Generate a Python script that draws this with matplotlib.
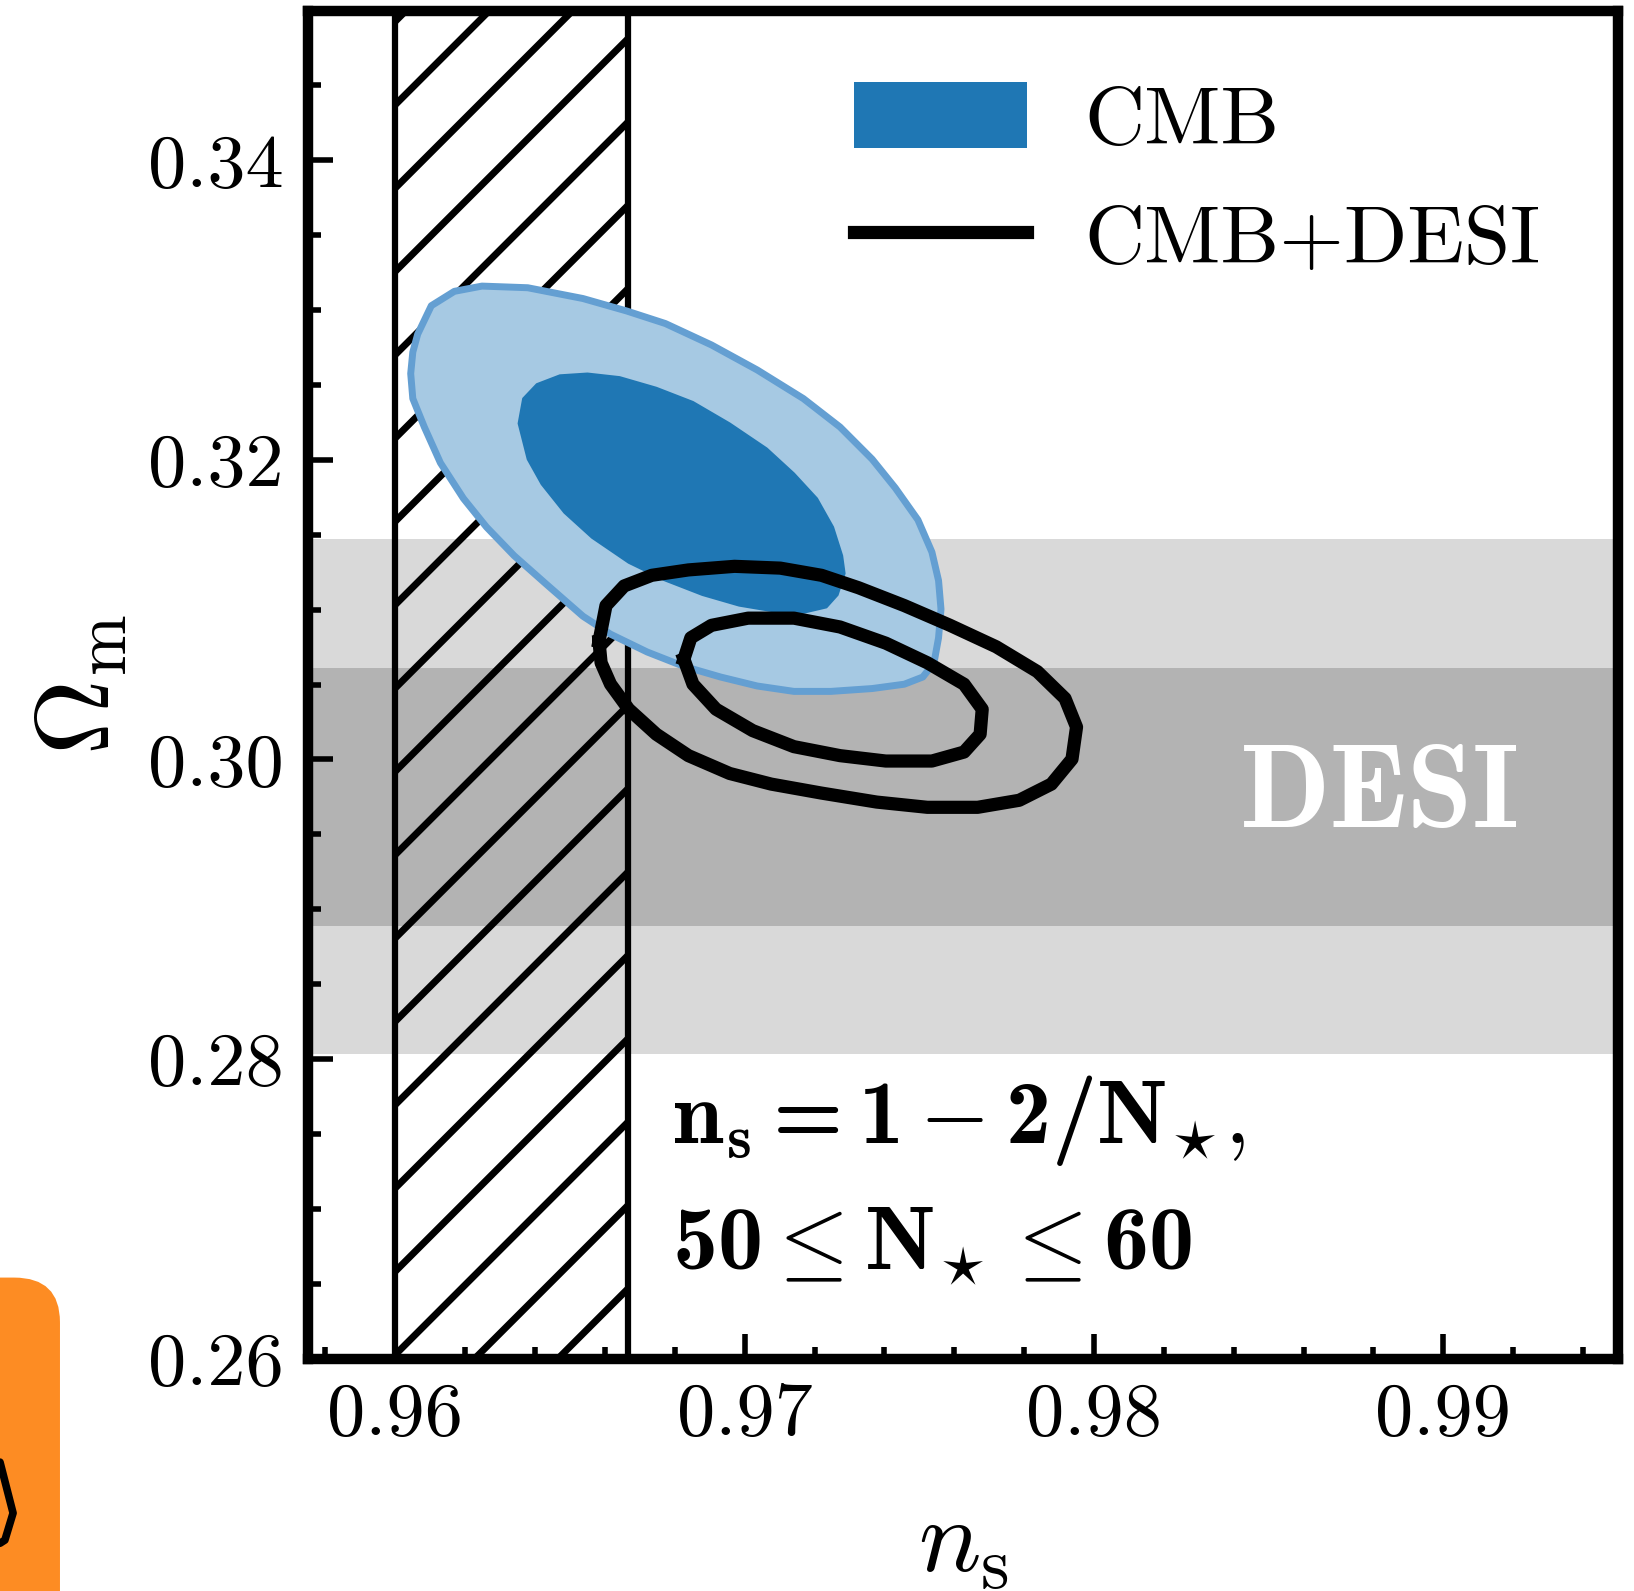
import numpy as np
import matplotlib.pyplot as plt
from matplotlib.patches import Patch, FancyBboxPatch
from matplotlib.lines import Line2D
from matplotlib.ticker import MultipleLocator, FixedLocator

plt.rcParams['font.family'] = 'serif'
plt.rcParams['font.serif'] = ['cmr10']
plt.rcParams['mathtext.fontset'] = 'custom'
plt.rcParams['mathtext.rm'] = 'cmr10'
plt.rcParams['mathtext.it'] = 'cmmi10'
plt.rcParams['mathtext.bf'] = 'cmb10'
plt.rcParams['mathtext.fallback'] = 'cm'
plt.rcParams['axes.unicode_minus'] = False
plt.rcParams['hatch.linewidth'] = 1.0

# CMB contours (ns, Omega_m)
cmb_95_ns = [0.96050, 0.96064, 0.96103, 0.96169, 0.96248, 0.96379, 0.96537, 0.96662,
             0.96773, 0.96905, 0.97036, 0.97168, 0.97273, 0.97365, 0.97431, 0.97496,
             0.97536, 0.97555, 0.97562, 0.97555, 0.97542, 0.97510, 0.97457, 0.97365,
             0.97247, 0.97141, 0.97036, 0.96931, 0.96826, 0.96721, 0.96616, 0.96537,
             0.96432, 0.96340, 0.96261, 0.96195, 0.96129, 0.96083, 0.96050, 0.96044]
cmb_95_om = [0.32719, 0.32839, 0.33029, 0.33125, 0.33160, 0.33149, 0.33077, 0.32994,
             0.32910, 0.32767, 0.32600, 0.32409, 0.32219, 0.32004, 0.31813, 0.31599,
             0.31384, 0.31194, 0.31003, 0.30812, 0.30645, 0.30550, 0.30502, 0.30473,
             0.30454, 0.30454, 0.30490, 0.30550, 0.30621, 0.30717, 0.30836, 0.30956,
             0.31170, 0.31360, 0.31551, 0.31742, 0.31980, 0.32219, 0.32409, 0.32576]
cmb_68_ns = [0.96353, 0.96366, 0.96405, 0.96471, 0.96550, 0.96642, 0.96747, 0.96852,
             0.96957, 0.97063, 0.97141, 0.97207, 0.97253, 0.97279, 0.97286, 0.97266,
             0.97234, 0.97168, 0.97076, 0.96984, 0.96879, 0.96773, 0.96668, 0.96563,
             0.96484, 0.96419, 0.96379]
cmb_68_om = [0.32243, 0.32409, 0.32505, 0.32564, 0.32576, 0.32552, 0.32481, 0.32386,
             0.32243, 0.32076, 0.31909, 0.31742, 0.31551, 0.31360, 0.31241, 0.31098,
             0.31015, 0.30979, 0.30991, 0.31027, 0.31098, 0.31194, 0.31313, 0.31480,
             0.31647, 0.31837, 0.32004]

# CMB+DESI contours
comb_95_ns = [0.96583, 0.96603, 0.96655, 0.96734, 0.96839, 0.96971, 0.97102, 0.97220,
              0.97326, 0.97457, 0.97588, 0.97720, 0.97838, 0.97917, 0.97950, 0.97937,
              0.97878, 0.97786, 0.97667, 0.97523, 0.97378, 0.97220, 0.97076, 0.96957,
              0.96839, 0.96747, 0.96668, 0.96616, 0.96589]
comb_95_om = [0.30788, 0.31027, 0.31158, 0.31229, 0.31265, 0.31289, 0.31277, 0.31229,
              0.31146, 0.31027, 0.30895, 0.30752, 0.30586, 0.30407, 0.30216, 0.30002,
              0.29835, 0.29727, 0.29680, 0.29680, 0.29715, 0.29775, 0.29835, 0.29906,
              0.30025, 0.30168, 0.30335, 0.30502, 0.30645]
comb_68_ns = [0.96826, 0.96846, 0.96905, 0.97010, 0.97141, 0.97273, 0.97404, 0.97523,
              0.97628, 0.97680, 0.97674, 0.97628, 0.97536, 0.97404, 0.97273, 0.97141,
              0.97023, 0.96918, 0.96852]
comb_68_om = [0.30669, 0.30812, 0.30895, 0.30943, 0.30943, 0.30884, 0.30776, 0.30645,
              0.30502, 0.30335, 0.30168, 0.30049, 0.29989, 0.29989, 0.30025, 0.30085,
              0.30192, 0.30335, 0.30502]

# DESI bands on Omega_m
desi_1sig = [0.2889, 0.3061]
desi_2sig = [0.2803, 0.3147]

# ns range for 50 <= N <= 60
ns_band = [0.96, 0.96667]

xticks = [0.96, 0.97, 0.98, 0.99]
yticks = [0.26, 0.28, 0.30, 0.32, 0.34]

fig = plt.figure(figsize=(1634 / 500, 1591 / 500), dpi=500)
ax = fig.add_axes([308 / 1634, 1 - 1358.5 / 1591, 1310 / 1634, 1348 / 1591])

ax.axhspan(desi_2sig[0], desi_2sig[1], color='#d9d9d9', lw=0, zorder=0.5)
ax.axhspan(desi_1sig[0], desi_1sig[1], color='#b3b3b3', lw=0, zorder=0.6)
ax.text(0.9882, 0.2975, 'DESI', family='cmb10', fontsize=17, color='white',
        ha='center', va='center', zorder=0.7)

ax.axvspan(ns_band[0], ns_band[1], facecolor='none', edgecolor='k', hatch='//',
           lw=0, zorder=1)
for v in ns_band:
    ax.axvline(v, color='k', lw=0.9, zorder=1.1)

ax.fill(cmb_95_ns, cmb_95_om, facecolor='#a6c9e3', edgecolor='#649fd2', lw=1.0,
        joinstyle='round', zorder=2)
ax.fill(cmb_68_ns, cmb_68_om, facecolor='#1f77b4', edgecolor='#1f77b4', lw=0.3,
        joinstyle='round', zorder=2.1)

for xs, ys in [(comb_95_ns, comb_95_om), (comb_68_ns, comb_68_om)]:
    ax.plot(xs + xs[:1], ys + ys[:1], color='k', lw=1.9, solid_joinstyle='round',
            zorder=3)

ax.text(0.96792, 0.27440, r'$\mathbf{n_s = 1 - 2/N}_{\!\star\!},$', fontsize=13,
        ha='left', va='baseline', zorder=4)
ax.text(0.96792, 0.26599, r'$\mathbf{50} \leq \mathbf{N}_{\!\star} \leq \mathbf{60}$',
        fontsize=13, ha='left', va='baseline', zorder=4)

handles = [Patch(facecolor='#1f77b4', edgecolor='none', label='CMB'),
           Line2D([], [], color='k', lw=1.9, label='CMB+DESI')]
ax.legend(handles=handles, loc='upper left', bbox_to_anchor=(0.4168, 0.947),
          frameon=False, fontsize=12, borderpad=0, borderaxespad=0,
          handlelength=2.07, handleheight=0.84, handletextpad=0.7, labelspacing=0.5)

ax.set_xlim(0.9575, 0.995)
ax.set_ylim(0.26, 0.35)
ax.xaxis.set_major_locator(FixedLocator(xticks))
ax.yaxis.set_major_locator(FixedLocator(yticks))
ax.set_xticklabels(['%.2f' % t for t in xticks])
ax.set_yticklabels(['%.2f' % t for t in yticks])
ax.xaxis.set_minor_locator(MultipleLocator(0.002))
ax.yaxis.set_minor_locator(MultipleLocator(0.005))
ax.tick_params(which='both', direction='in', top=False, right=False, labelsize=11)
ax.tick_params(which='major', length=3.6, width=0.8, pad=3.5)
ax.tick_params(which='minor', length=1.8, width=0.8)
for s in ax.spines.values():
    s.set_linewidth(1.5)

ax.set_xlabel(r'$n_\mathrm{s}$', fontsize=15)
ax.set_ylabel(r'$\Omega_\mathrm{m}$', fontsize=15)
ax.xaxis.set_label_coords(0.5, -0.105)
ax.yaxis.set_label_coords(-0.1365, 0.5)

# orange tab cut off at the lower-left edge of the picture
fig.patches.append(FancyBboxPatch((-0.05, -0.05), 0.0867, 0.247,
                                  boxstyle='round,pad=0,rounding_size=0.028',
                                  transform=fig.transFigure, facecolor='#fd8c23',
                                  edgecolor='none'))
fig.lines.append(Line2D([0.0, 0.008, 0.003, 0.0], [0.081, 0.049, 0.032, 0.030],
                        transform=fig.transFigure, color='k', lw=1.1,
                        solid_joinstyle='round', solid_capstyle='round'))

fig.savefig('out.png', dpi=500)
